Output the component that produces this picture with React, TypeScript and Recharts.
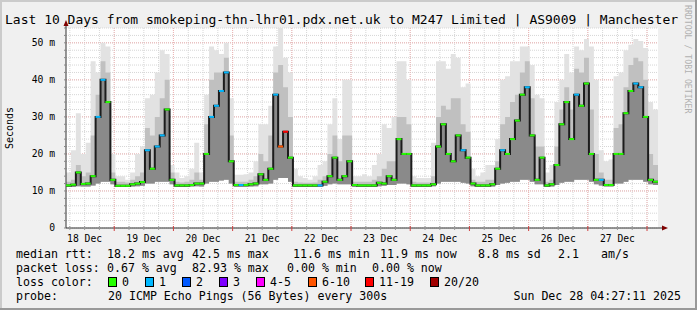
import { ComposedChart, Area, Line, XAxis, YAxis, CartesianGrid } from "recharts";

// 10 days ending Sun Dec 28 04:27:11, one sample every 2 h (x in hours since start)
const dayLabels = ["18 Dec", "19 Dec", "20 Dec", "21 Dec", "22 Dec", "23 Dec", "24 Dec", "25 Dec", "26 Dec", "27 Dec"];
const dayNoon = [7.55, 31.55, 55.55, 79.55, 103.55, 127.55, 151.55, 175.55, 199.55, 223.55];
const dayStart = [19.55, 43.55, 67.55, 91.55, 115.55, 139.55, 163.55, 187.55, 211.55, 235.55];

const yMajor = [10, 20, 30, 40, 50];
const yTickLabels: Record<number, string> = { 0: "0", 10: "10 m", 20: "20 m", 30: "30 m", 40: "40 m", 50: "50 m" };

// median rtt (ms)
const median = [
  11.5, 11.7, 15, 11.9, 12, 14, 30, 40, 34, 13,
  11.4, 11.4, 11.4, 11.8, 12, 12.4, 21, 16, 22, 25,
  32, 13, 11.5, 11.5, 11.5, 11.6, 12, 12, 20, 30,
  33, 37, 42, 18, 11.6, 11.6, 11.6, 11.8, 12, 14.5,
  13, 16, 36, 22, 26, 19, 11.5, 11.5, 11.5, 11.5,
  11.5, 11.5, 12.5, 14, 19, 13, 14, 18, 11.6, 11.5,
  11.5, 11.5, 11.5, 12.2, 12, 14, 13, 24, 20, 20,
  11.5, 11.5, 11.5, 11.5, 11.8, 22, 28, 20, 18, 25,
  21, 19, 12, 11.5, 11.5, 11.5, 11.8, 16, 21, 20,
  24, 29, 36, 38, 25, 13, 19, 11.5, 11.8, 17,
  28, 34, 24, 36, 33, 39, 20, 13, 13, 11.6,
  11.6, 20, 20, 31, 37, 39, 38, 30, 13, 12.5, 12.5,
];

// smoke: lowest ping
const smokeLow = [
  11.1, 11.1, 11.3, 11.2, 11.2, 11.5, 12, 12.5, 12.5, 11.8,
  11.1, 11.1, 11.1, 11.2, 11.3, 11.4, 12, 12, 12.5, 12.5,
  12.5, 11.8, 11.1, 11.1, 11.1, 11.2, 11.3, 11.2, 12, 12.5,
  12.5, 12.8, 13, 12, 11.1, 11.1, 11.1, 11.2, 11.3, 11.8,
  11.8, 12, 13, 13.5, 13.5, 12.5, 11.1, 11.1, 11.1, 11.1,
  11.1, 11.2, 11.4, 11.8, 12, 11.8, 11.8, 11.8, 11.1, 11.1,
  11.1, 11.1, 11.1, 11.3, 11.4, 11.6, 11.6, 12, 12, 11.8,
  11.1, 11.1, 11.1, 11.1, 11.3, 12, 12.5, 12.5, 12.5, 12.5,
  12.2, 12, 11.3, 11.1, 11.1, 11.1, 11.2, 11.6, 12, 12.2,
  12.5, 12.5, 13, 13, 12.5, 11.8, 11.8, 11.1, 11.2, 11.6,
  12.2, 12.5, 12.5, 13, 13, 13, 12.5, 11.8, 11.5, 11.2,
  11.2, 12, 12, 12.5, 13, 13, 13, 12.5, 11.8, 11.6, 11.6,
];

// smoke: top of the dense part
const smokeDark = [
  12.5, 13, 17, 14, 15, 25, 36, 45, 42, 15,
  12.5, 12.5, 12.3, 13, 14, 15, 27, 25, 30, 35,
  40, 15, 12.5, 12.3, 12.5, 13, 15, 13, 28, 40,
  42, 42, 46, 25, 12.5, 12.5, 12.5, 13, 14, 20,
  18, 25, 42, 44, 38, 30, 12.5, 12.3, 12.2, 12.2,
  12.3, 13, 14, 20, 25, 18, 25, 25, 12.5, 12.5,
  12.5, 12.5, 13, 14, 16, 18, 18, 30, 30, 28,
  12.5, 12.3, 12.3, 12.3, 14, 30, 33, 32, 35, 35,
  28, 26, 13, 12.5, 12.5, 13, 13, 18, 28, 30,
  34, 36, 42, 45, 35, 22, 22, 12.5, 13, 22,
  32, 38, 32, 43, 42, 46, 32, 20, 15, 13,
  13, 27, 28, 38, 44, 46, 45, 40, 20, 17, 17,
];

// smoke: highest ping
const smokeHigh = [
  15, 21, 31, 20, 23, 45, 42, 50, 49, 20,
  14, 14, 13, 15, 20, 22, 35, 36, 42, 48,
  47, 17, 15, 13.5, 14, 16, 23, 15, 36, 49,
  48, 47, 50, 35, 14.4, 14.4, 14.5, 15, 18, 28,
  28, 33, 49, 54, 46, 42, 16, 14, 13.5, 13,
  14, 17, 18, 28, 35, 24, 40, 40, 14, 14,
  14.5, 14, 17, 20, 28, 27, 30, 45, 45, 40,
  14, 13.5, 13.5, 13.5, 23, 45, 45, 43, 47, 46,
  38, 39, 16, 14, 15, 17, 17, 24, 40, 41,
  45, 45, 49, 49, 44, 36, 35, 15, 17, 34,
  40, 47, 42, 49, 48, 51, 49, 40, 21, 18,
  18.5, 41, 42, 48, 49.5, 51, 50.5, 48.6, 34, 32, 32,
];

// lost pings out of 20
const lossCount = [
  0, 0, 0, 0, 0, 0, 1, 1, 0, 0,
  0, 0, 0, 0, 0, 0, 1, 0, 1, 1,
  0, 0, 0, 0, 0, 0, 0, 0, 0, 1,
  1, 1, 1, 0, 0, 1, 0, 0, 0, 0,
  0, 0, 1, 7, 12, 0, 0, 0, 0, 0,
  0, 1, 0, 0, 0, 0, 0, 0, 0, 0,
  0, 0, 0, 0, 0, 0, 0, 0, 0, 0,
  0, 0, 0, 0, 0, 0, 0, 0, 0, 0,
  1, 0, 0, 0, 0, 0, 0, 0, 1, 0,
  0, 0, 0, 1, 0, 0, 0, 0, 0, 0,
  0, 0, 0, 1, 0, 0, 0, 0, 1, 0,
  0, 0, 0, 0, 0, 1, 1, 0, 0, 0, 0,
];

const lossLabels = ["0", "1", "2", "3", "4-5", "6-10", "11-19", "20/20"];
const lossUpper = [0, 1, 2, 3, 5, 10, 19, 20];
const lossColors = ["#26ff00", "#00b8ff", "#0059ff", "#7e00ff", "#ff00ff", "#ff5500", "#ff0000", "#a10000"];

const rttStats = ["18.2 ms avg", "42.5 ms max", "11.6 ms min", "11.9 ms now", "8.8 ms sd", "2.1", "am/s"];
const lossStats = ["0.67 % avg", "82.93 % max", "0.00 % min", "0.00 % now"];

const rows = median.map((m, i) => ({
  t: i * 2,
  med: m,
  smoke: [smokeLow[i], smokeHigh[i]],
  dark: [smokeLow[i], smokeDark[i]],
  core: [smokeLow[i], m],
  loss: lossCount[i],
}));

const minorY = Array.from({ length: 28 }, (_, i) => i * 2);
const minorX = Array.from({ length: 40 }, (_, i) => 1.55 + i * 6);

const lossColor = (n: number) => {
  for (let i = 0; i < lossUpper.length; i++) if (n <= lossUpper[i]) return lossColors[i];
  return lossColors[lossColors.length - 1];
};

const FONT = "DejaVu Sans Mono";
const STEP_PX = 592 / 120;

const LossDash = (p: any) => {
  const { cx, cy, index, payload } = p;
  if (cx == null || cy == null || index >= rows.length - 1) return <g key={`d${index}`} />;
  return <rect key={`d${index}`} x={cx} y={cy - 1} width={STEP_PX} height={2} fill={lossColor(payload.loss)} />;
};

const XTick = (p: any) => {
  const { x, y, payload } = p;
  const v = payload.value as number;
  const isDay = dayStart.some((d) => Math.abs(d - v) < 0.01);
  const li = dayNoon.findIndex((d) => Math.abs(d - v) < 0.01);
  return (
    <g>
      <line x1={x} x2={x} y1={y - 2} y2={y + (isDay ? 3 : 2)} stroke={isDay ? "#d04040" : "#999"} strokeWidth={1} />
      {li >= 0 && (
        <text x={x} y={y + 13.5} textAnchor="middle" fontSize={9.7} fontFamily={FONT} fill="#000">
          {dayLabels[li]}
        </text>
      )}
    </g>
  );
};

const rttX = [107, 192, 293, 380, 478, 558, 601];
const lossX = [107, 192, 287, 372];
const swatchX = [108, 145, 182, 219, 256, 308, 365, 430];

export default function App() {
  const txt = { fontFamily: FONT, fontSize: 11.6, fill: "#000" } as const;
  return (
    <div style={{ position: "relative", width: 697, height: 310, background: "#f0f0f0" }}>
      <style>{`body{margin:0}`}</style>
      <div style={{ position: "absolute", left: 0, top: 0 }}>
        <ComposedChart width={697} height={310} data={rows} margin={{ top: 28, right: 39, bottom: 52, left: 26 }}>
          <CartesianGrid fill="#ffffff" horizontalValues={minorY} verticalValues={minorX} stroke="#d6d6d6" strokeDasharray="1 1" />
          <CartesianGrid horizontalValues={yMajor} verticalValues={dayStart} stroke="#eeb4b4" strokeDasharray="1 1" />
          <XAxis
            type="number"
            dataKey="t"
            domain={[0, 240]}
            ticks={minorX}
            interval={0}
            height={30}
            tickLine={false}
            tickSize={0}
            tickMargin={0}
            tick={XTick}
            axisLine={{ stroke: "#333" }}
            allowDataOverflow
          />
          <YAxis
            type="number"
            domain={[0, 54]}
            ticks={minorY}
            interval={0}
            width={40}
            tickSize={2}
            tickMargin={9}
            tickFormatter={(v: number) => yTickLabels[v] ?? ""}
            tick={{ fontSize: 9.7, fontFamily: FONT, fill: "#000" }}
            tickLine={{ stroke: "#888" }}
            axisLine={{ stroke: "#333" }}
            allowDataOverflow
          />
          <Area dataKey="smoke" type="stepAfter" stroke="none" fill="#e2e2e2" fillOpacity={1} isAnimationActive={false} />
          <Area dataKey="dark" type="stepAfter" stroke="none" fill="#c0c0c0" fillOpacity={1} isAnimationActive={false} />
          <Area dataKey="core" type="stepAfter" stroke="none" fill="#8a8a8a" fillOpacity={1} isAnimationActive={false} />
          <Line dataKey="med" type="stepAfter" stroke="#1c1c1c" strokeWidth={2} dot={false} activeDot={false} isAnimationActive={false} />
          <Line dataKey="med" type="stepAfter" stroke="none" dot={LossDash} activeDot={false} isAnimationActive={false} />
        </ComposedChart>
      </div>
      <svg width={697} height={310} style={{ position: "absolute", left: 0, top: 0, pointerEvents: "none" }}>
        <rect x={0} y={0} width={697} height={2} fill="#cbcbcb" />
        <rect x={0} y={0} width={2} height={310} fill="#cbcbcb" />
        <rect x={0} y={308} width={697} height={2} fill="#999" />
        <rect x={695} y={0} width={2} height={310} fill="#999" />
        <text x={5} y={24} fontFamily={FONT} fontSize={13} fill="#000">
          Last 10 Days from smokeping-thn-lhr01.pdx.net.uk to M247 Limited | AS9009 | Manchester
        </text>
        <text transform="translate(685,5) rotate(90)" fontFamily={FONT} fontSize={8.2} fill="#b0b0b0">
          RRDTOOL / TOBI OETIKER
        </text>
        <text transform="translate(13,128) rotate(-90)" textAnchor="middle" fontFamily={FONT} fontSize={10} fill="#000">
          Seconds
        </text>
        <line x1={66} x2={66} y1={28} y2={23} stroke="#333" />
        <polygon points="63.5,26 68.5,26 66,20" fill="#7f0000" />
        <line x1={658} x2={664} y1={228} y2={228} stroke="#333" />
        <polygon points="662,225.5 662,230.5 668,228" fill="#7f0000" />
        <text x={16} y={258} {...txt}>median rtt:</text>
        {rttStats.map((s, i) => (
          <text key={s} x={rttX[i]} y={258} {...txt}>{s}</text>
        ))}
        <text x={16} y={272} {...txt}>packet loss:</text>
        {lossStats.map((s, i) => (
          <text key={s} x={lossX[i]} y={272} {...txt}>{s}</text>
        ))}
        <text x={16} y={286} {...txt}>loss color:</text>
        {lossLabels.map((s, i) => (
          <g key={s}>
            <rect x={swatchX[i] + 0.5} y={277.5} width={8} height={9} fill={lossColors[i]} stroke="#000" strokeWidth={1} />
            <text x={swatchX[i] + 14} y={286} {...txt}>{s}</text>
          </g>
        ))}
        <text x={16} y={300} {...txt}>probe:</text>
        <text x={108} y={300} {...txt}>20 ICMP Echo Pings (56 Bytes) every 300s</text>
        <text x={681} y={300} textAnchor="end" {...txt}>Sun Dec 28 04:27:11 2025</text>
      </svg>
    </div>
  );
}
